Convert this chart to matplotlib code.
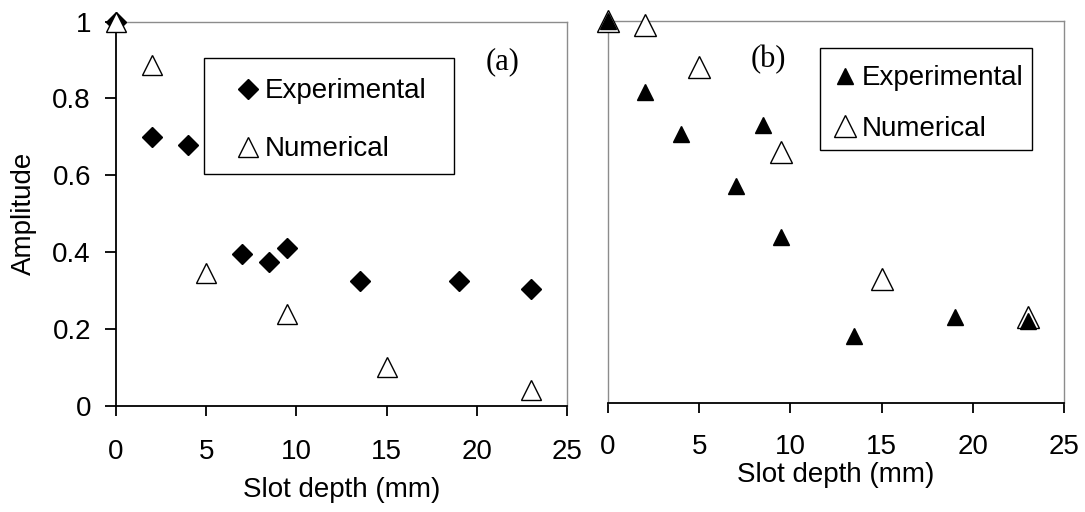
import matplotlib
matplotlib.use('Agg')
import matplotlib.pyplot as plt
from matplotlib.patches import Rectangle
from matplotlib.ticker import FuncFormatter

# slot depth (mm) and amplitude
depth_exp_a = [0, 2, 4, 7, 8.5, 9.5, 13.5, 19, 23]
amp_exp_a = [1.0, 0.70, 0.68, 0.395, 0.375, 0.41, 0.325, 0.325, 0.305]
depth_num_a = [0, 2, 5, 9.5, 15, 23]
amp_num_a = [1.0, 0.887, 0.346, 0.239, 0.10, 0.041]

depth_exp_b = [0, 2, 4, 7, 8.5, 9.5, 13.5, 19, 23]
amp_exp_b = [1.0, 0.815, 0.703, 0.569, 0.728, 0.434, 0.175, 0.226, 0.215]
depth_num_b = [0, 2, 5, 9.5, 15, 23]
amp_num_b = [1.0, 0.99, 0.88, 0.658, 0.324, 0.226]

xticks = [0, 5, 10, 15, 20, 25]
yticks = [0, 0.2, 0.4, 0.6, 0.8, 1.0]

plt.rcParams['font.family'] = ['Liberation Sans', 'DejaVu Sans']
fs = 20
serif = ['Liberation Serif', 'DejaVu Serif']

fig = plt.figure(figsize=(10.85, 5.12), dpi=100)
ax1 = fig.add_axes([0.1069, 0.2076, 0.4157, 0.7502])
ax2 = fig.add_axes([0.5604, 0.2129, 0.4203, 0.7461])

# (a)
ax1.plot(depth_exp_a, amp_exp_a, 'D', ms=10, mfc='k', mec='k', ls='none',
         label='Experimental', clip_on=False, zorder=3)
ax1.plot(depth_num_a, amp_num_a, '^', ms=14, mfc='white', mec='k', mew=1.0,
         ls='none', label='Numerical', clip_on=False, zorder=4)

# (b)
ax2.plot(depth_num_b, amp_num_b, '^', ms=16, mfc='white', mec='k', mew=1.0,
         ls='none', label='Numerical', clip_on=False, zorder=3)
ax2.plot(depth_exp_b, amp_exp_b, '^', ms=12, mfc='k', mec='k', ls='none',
         label='Experimental', clip_on=False, zorder=4)

for ax in (ax1, ax2):
    ax.set_xlim(0, 25)
    ax.set_ylim(0, 1)
    ax.set_xticks(xticks)
    ax.set_yticks(yticks)
    ax.yaxis.set_major_formatter(FuncFormatter(lambda v, p: '%g' % v))
    for s in ('top', 'right', 'left'):
        ax.spines[s].set_color('#8c8c8c')
        ax.spines[s].set_linewidth(1.0)
    ax.spines['bottom'].set_color('k')
    ax.spines['bottom'].set_linewidth(1.3)
    ax.set_xlabel('Slot depth (mm)', fontsize=fs)

ax1.tick_params(axis='x', direction='out', length=7, width=1.3,
                labelsize=fs, pad=17)
ax2.tick_params(axis='x', direction='out', length=7, width=1.3,
                labelsize=fs, pad=15)

ax1.spines['left'].set_color('k')
ax1.spines['left'].set_linewidth(1.3)
ax1.tick_params(axis='y', direction='out', length=8, width=1.3,
                labelsize=fs, pad=10)
ax1.set_ylabel('Amplitude', fontsize=fs)
ax1.yaxis.set_label_coords(-0.175, 0.5)
ax1.xaxis.set_label_coords(0.5, -0.185)

ax2.tick_params(axis='y', left=False, labelleft=False)
ax2.xaxis.set_label_coords(0.5, -0.155)

ax1.text(0.857, 0.895, '(a)', transform=ax1.transAxes, ha='center',
         va='center', fontsize=22, family=serif)
ax2.text(0.351, 0.898, '(b)', transform=ax2.transAxes, ha='center',
         va='center', fontsize=22, family=serif)

# legend boxes drawn by hand, legends placed inside without frame
ax1.add_patch(Rectangle((0.195, 0.603), 0.554, 0.302, transform=ax1.transAxes,
                        fill=False, ec='k', lw=1.0, zorder=5))
ax1.legend(loc='upper left', bbox_to_anchor=(0.262, 0.852), fontsize=fs,
           frameon=False, numpoints=1, handlelength=1.0, handletextpad=0.1,
           borderpad=0, labelspacing=1.15, borderaxespad=0)

ax2.add_patch(Rectangle((0.465, 0.662), 0.464, 0.266, transform=ax2.transAxes,
                        fill=False, ec='k', lw=1.0, zorder=5))
h, l = ax2.get_legend_handles_labels()
ax2.legend(h[::-1], l[::-1], loc='upper left', bbox_to_anchor=(0.496, 0.884),
           fontsize=fs, frameon=False, numpoints=1, handlelength=0.8,
           handletextpad=0.2, borderpad=0, labelspacing=0.88,
           borderaxespad=0)

fig.savefig('out.png', dpi=100)
